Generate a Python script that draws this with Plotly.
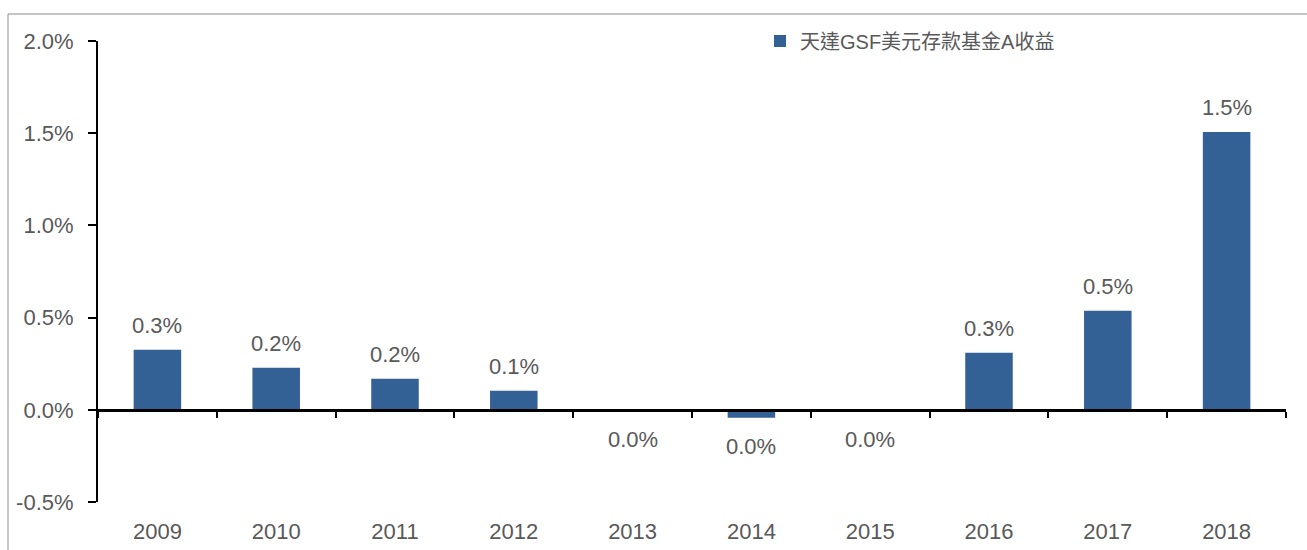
import plotly.graph_objects as go

years = ["2009", "2010", "2011", "2012", "2013", "2014", "2015", "2016", "2017", "2018"]
returns_pct = [0.325, 0.228, 0.168, 0.103, -0.004, -0.043, -0.003, 0.309, 0.537, 1.507]
series_name = "天達GSF美元存款基金A收益"
y_ticks = [-0.5, 0.0, 0.5, 1.0, 1.5, 2.0]
y_ticklabels = ["-0.5%", "0.0%", "0.5%", "1.0%", "1.5%", "2.0%"]

FONT = "Liberation Sans, Arial, Noto Sans CJK TC, sans-serif"
GRAY = "#595959"
BAR = "#336195"

W, H = 1307, 550
ML, MR, MT, MB = 98, 21, 41, 48
PW, PH = W - ML - MR, H - MT - MB

fig = go.Figure()
fig.add_trace(go.Bar(
    x=years, y=returns_pct, name=series_name,
    marker=dict(color=BAR, line=dict(width=0)),
    showlegend=True, xaxis="x", yaxis="y",
))
# invisible helper trace so that the zero-level axis (x2) is drawn
fig.add_trace(go.Scatter(
    x=years, y=[0] * len(years), mode="none", xaxis="x2", yaxis="y",
    showlegend=False, hoverinfo="skip",
))

def fmt(v):
    return f"{round(v, 1) + 0.0:.1f}%"

annotations = []
for i, v in enumerate(returns_pct):
    annotations.append(dict(
        x=i, y=v, xref="x", yref="y", text=fmt(v), showarrow=False,
        yanchor="middle", xanchor="center",
        yshift=24 if v > 0 else -29,
        font=dict(family=FONT, size=22, color=GRAY),
    ))

zero_pos = (0 - y_ticks[0]) / (y_ticks[-1] - y_ticks[0])

def px_x(p):
    return (p - ML) / PW

def px_y(p):
    return (H - MB - p) / PH

shapes = [
    dict(type="line", xref="paper", yref="paper",
         x0=px_x(8), y0=px_y(550), x1=px_x(8), y1=px_y(14),
         line=dict(color="#8c8c8c", width=1)),
    dict(type="line", xref="paper", yref="paper",
         x0=px_x(8), y0=px_y(14), x1=px_x(1307), y1=px_y(14),
         line=dict(color="#8c8c8c", width=1)),
]

fig.update_layout(
    width=W, height=H,
    margin=dict(l=ML, r=MR, t=MT, b=MB, pad=0, autoexpand=False),
    paper_bgcolor="white", plot_bgcolor="white",
    bargap=0.6,
    font=dict(family=FONT, size=22, color=GRAY),
    xaxis=dict(
        type="category", categoryorder="array", categoryarray=years,
        range=[-0.5, len(years) - 0.5],
        showline=False, ticks="", showgrid=False, zeroline=False,
        tickfont=dict(family=FONT, size=22, color=GRAY),
        tickangle=0, automargin=False, ticklabelstandoff=14,
    ),
    xaxis2=dict(
        type="category", categoryorder="array", categoryarray=years,
        range=[-0.5, len(years) - 0.5],
        overlaying="x", anchor="free", position=zero_pos,
        showline=True, linecolor="black", linewidth=3,
        ticks="outside", tickson="boundaries", ticklen=6, tickwidth=2, tickcolor="black",
        showticklabels=False, showgrid=False, zeroline=False, automargin=False,
    ),
    yaxis=dict(
        range=[y_ticks[0], y_ticks[-1]],
        tickvals=y_ticks, ticktext=y_ticklabels,
        showline=True, linecolor="black", linewidth=2,
        ticks="outside", ticklen=8, tickwidth=2, tickcolor="black",
        showgrid=False, zeroline=False, automargin=False,
        tickfont=dict(family=FONT, size=22, color=GRAY),
        ticklabelstandoff=10,
    ),
    legend=dict(
        x=px_x(760), y=1.0, xanchor="left", yanchor="middle",
        bgcolor="rgba(0,0,0,0)", itemwidth=30,
        font=dict(family=FONT, size=20, color=GRAY),
    ),
    annotations=annotations,
    shapes=shapes,
)

fig.write_html(
    "out.html",
    config={"displayModeBar": False},
    post_script="document.body.style.margin='0';document.body.style.overflow='hidden';",
)
